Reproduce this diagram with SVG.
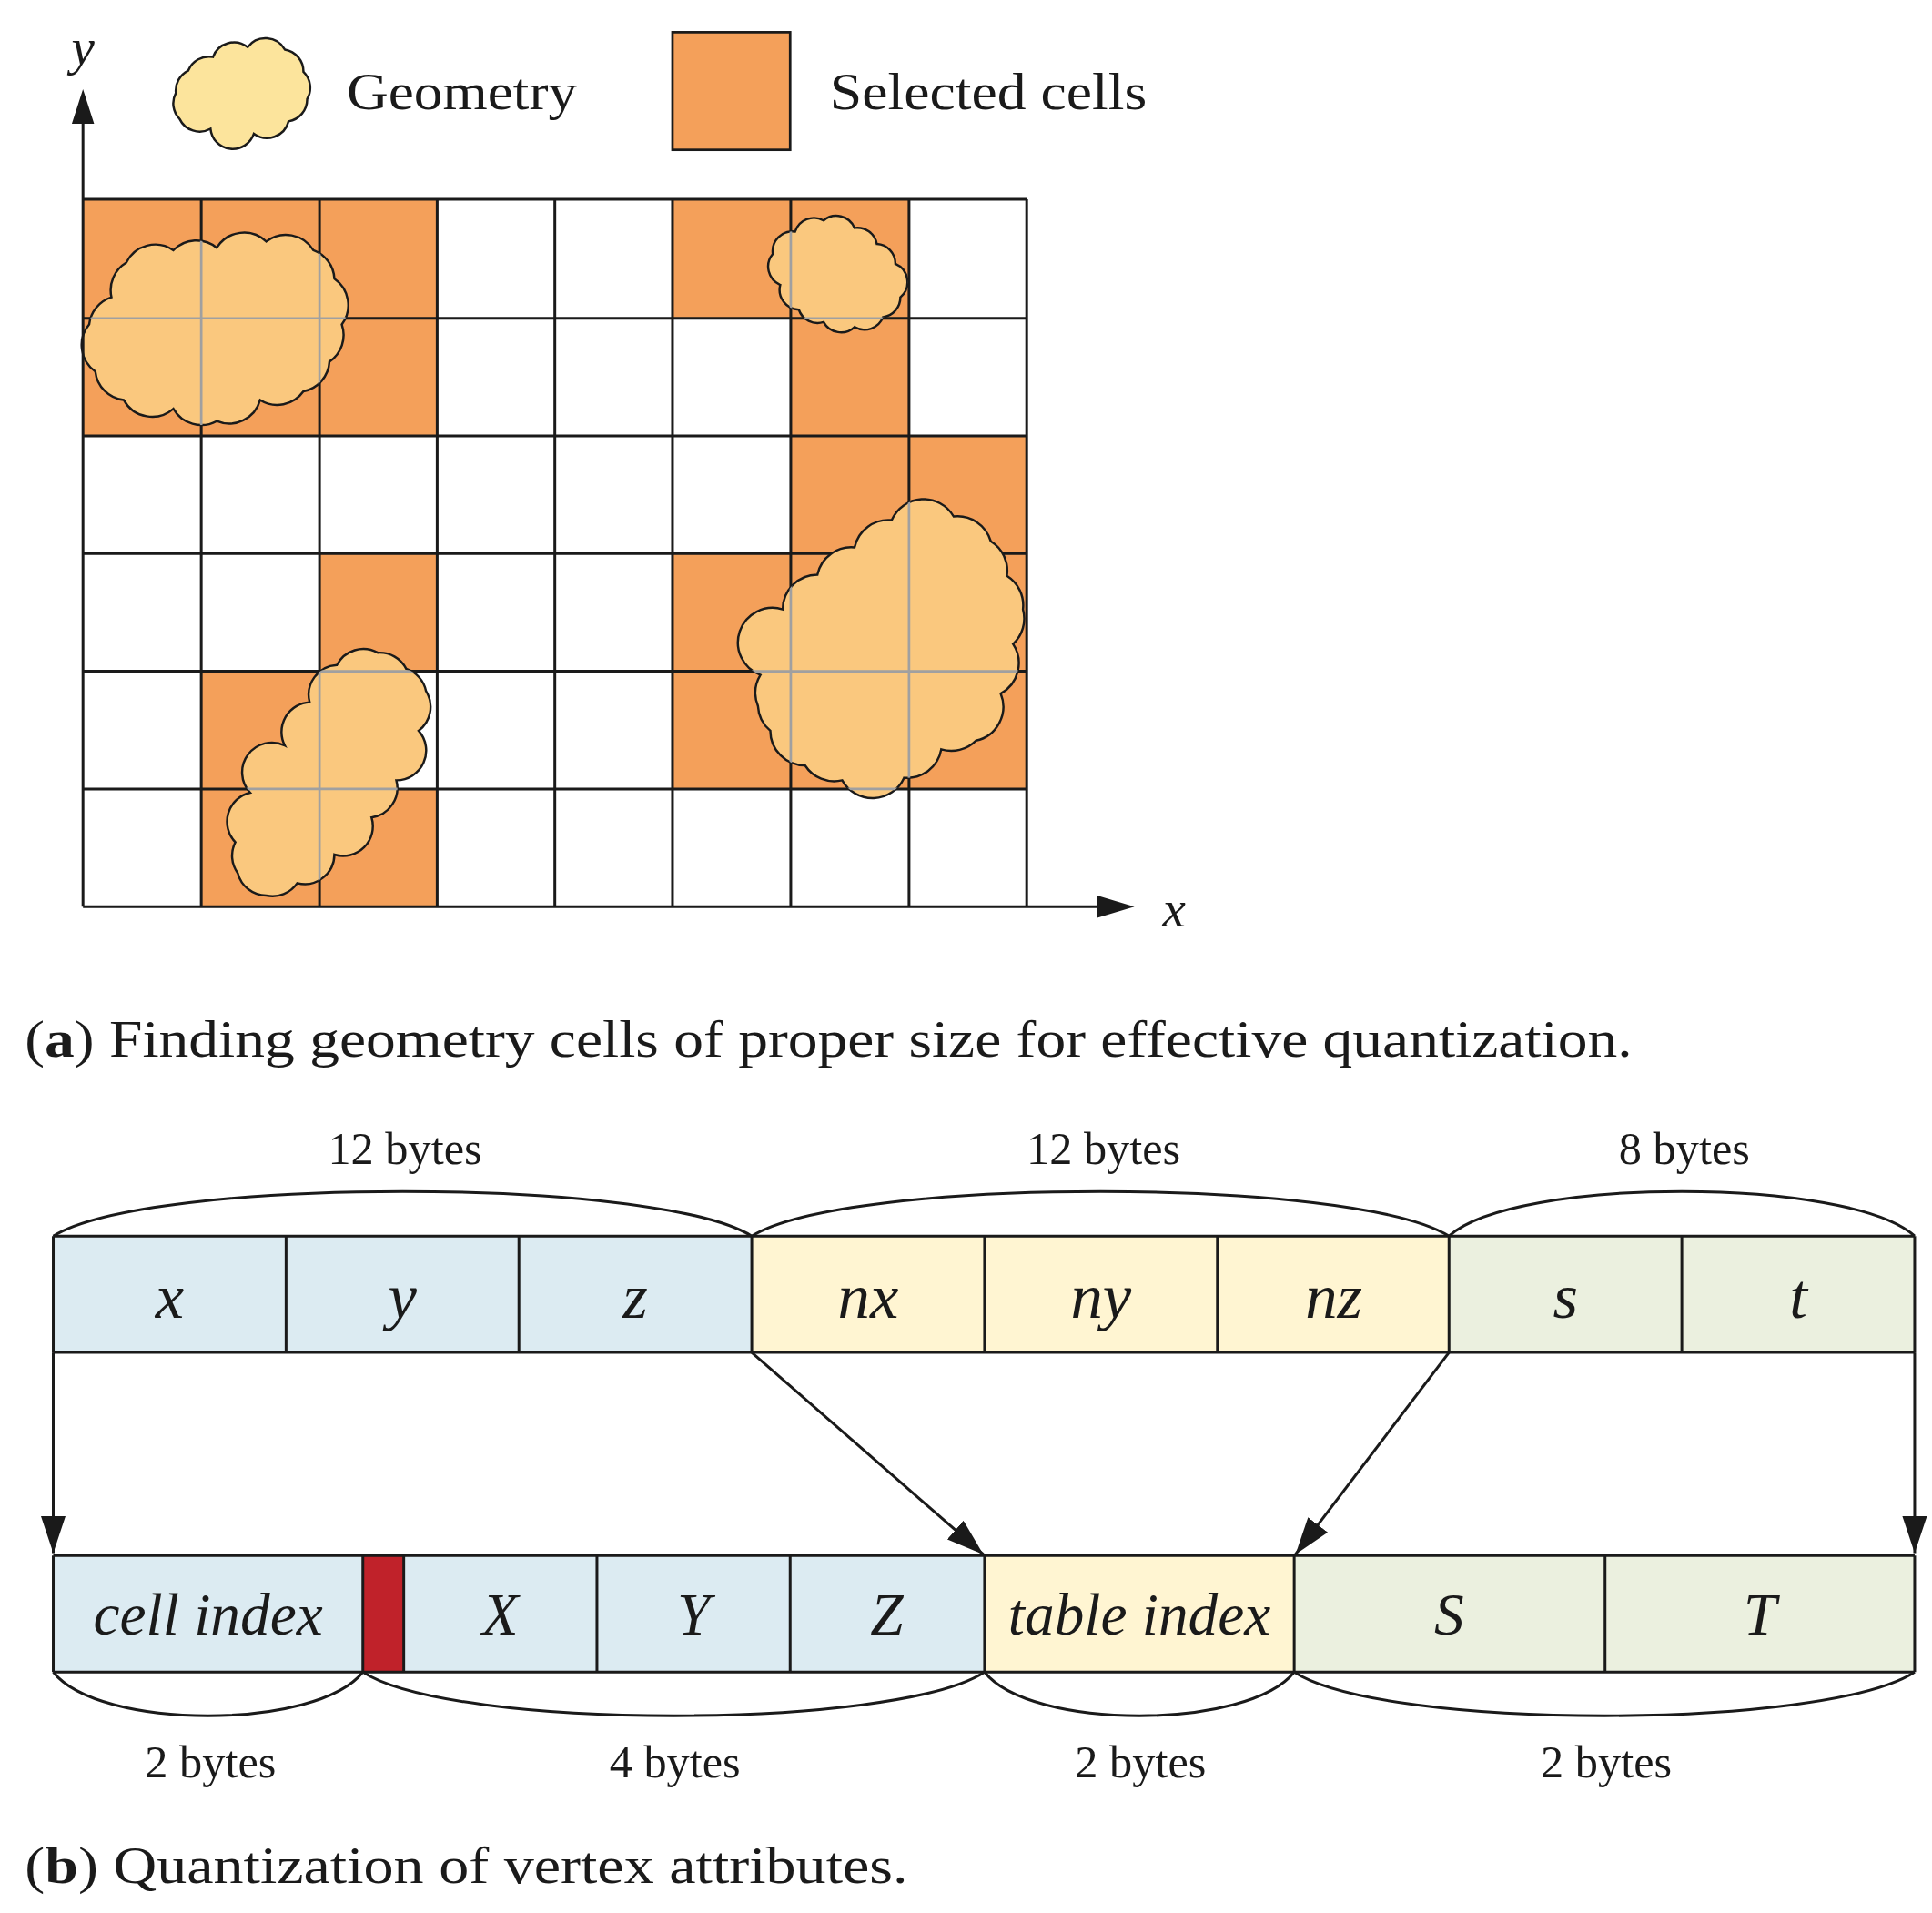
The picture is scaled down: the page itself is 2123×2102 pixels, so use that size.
<svg xmlns="http://www.w3.org/2000/svg" width="2123" height="2102" viewBox="0 0 2123 2102">
<style>
.g{stroke:#1a1a1a;stroke-width:2.2;fill:none}
.or{fill:#F4A05A}
.cl{fill:#FAC87E;stroke:#1a1a1a;stroke-width:1.8}
.gl{stroke:#a0a0a0;stroke-width:2;fill:none}
.t{font-family:"Liberation Serif",serif;fill:#1a1a1a}
.i{font-family:"Liberation Serif",serif;font-style:italic;fill:#1a1a1a;text-anchor:middle}
.bl{fill:#DCEBF2}.ye{fill:#FFF5D2}.gr{fill:#EBF0DF}
.ln{stroke:#1a1a1a;stroke-width:2.2;fill:none}
</style>
<defs>
<marker id="ah2" viewBox="0 0 30 20" markerWidth="30" markerHeight="20" refX="30" refY="10" orient="auto" markerUnits="userSpaceOnUse"><path d="M0,0 L30,10 L0,20 z" fill="#1a1a1a"/></marker>
<path id="c1" d="M72,262 A26,26 0 0 1 90,240 A26,26 0 0 1 102,212 A26,26 0 0 1 140,202 A26,26 0 0 1 175,200 A26,26 0 0 1 215,195 A26,26 0 0 1 253,202 A26,26 0 0 1 270,225 A26,26 0 0 1 276,262 A26,26 0 0 1 266,292 A26,26 0 0 1 245,316 A26,26 0 0 1 210,323 A26,26 0 0 1 175,340 A26,26 0 0 1 140,330 A26,26 0 0 1 100,323 A26,26 0 0 1 77,300 A26,26 0 0 1 72,262 Z"/>
<path id="c2" d="M624,205 A16,16 0 0 1 642,187 A16,16 0 0 1 665,178 A16,16 0 0 1 690,184 A16,16 0 0 1 708,197 A16,16 0 0 1 723,213 A16,16 0 0 1 727,240 A16,16 0 0 1 713,256 A16,16 0 0 1 690,264 A16,16 0 0 1 665,260 A16,16 0 0 1 645,250 A16,16 0 0 1 630,230 A16,16 0 0 1 624,205 Z"/>
<path id="c3" d="M614,545 A28,28 0 0 1 632,492 A28,28 0 0 1 660,464 A28,28 0 0 1 690,442 A28,28 0 0 1 720,420 A28,28 0 0 1 770,417 A28,28 0 0 1 800,437 A28,28 0 0 1 813,465 A28,28 0 0 1 826,492 A28,28 0 0 1 818,520 A28,28 0 0 1 808,560 A28,28 0 0 1 788,598 A28,28 0 0 1 760,605 A28,28 0 0 1 730,628 A28,28 0 0 1 680,630 A28,28 0 0 1 650,618 A28,28 0 0 1 622,590 A28,28 0 0 1 612,570 A28,28 0 0 1 614,545 Z"/>
<path id="c4" d="M190,680 A24,24 0 0 1 202,640 A24,24 0 0 1 230,602 A24,24 0 0 1 250,567 A24,24 0 0 1 272,537 A24,24 0 0 1 305,527 A24,24 0 0 1 328,540 A24,24 0 0 1 344,558 A24,24 0 0 1 338,590 A24,24 0 0 1 320,630 A24,24 0 0 1 300,660 A24,24 0 0 1 270,690 A24,24 0 0 1 240,713 A24,24 0 0 1 215,723 A24,24 0 0 1 192,705 A24,24 0 0 1 190,680 Z"/>
<clipPath id="cc"><use href="#c1"/><use href="#c2"/><use href="#c3"/><use href="#c4"/></clipPath>
</defs>
<g transform="scale(1.3609)">
<g id="grid">
<g class="or">
<rect x="67" y="161" width="286" height="191"/>
<rect x="543" y="161" width="191" height="96"/>
<rect x="638.5" y="257" width="95.5" height="95"/>
<rect x="638.5" y="352" width="190.5" height="95"/>
<rect x="258" y="447" width="95" height="95"/>
<rect x="543" y="447" width="286" height="190"/>
<rect x="162.5" y="542" width="95.5" height="95"/>
<rect x="162.5" y="637" width="190.5" height="95"/>
</g>
<path class="g" d="M67,161H829M67,257H829M67,352H829M67,447H829M67,542H829M67,637H829M162.5,161V732M258,161V732M353,161V732M448,161V732M543,161V732M638.5,161V732M734,161V732M829,161V732"/>
</g>
<g id="clouds">
<use href="#c1" class="cl"/><use href="#c2" class="cl"/><use href="#c3" class="cl"/><use href="#c4" class="cl"/>
<path class="gl" clip-path="url(#cc)" d="M67,257H829M67,542H829M67,637H829M162.5,161V732M258,161V732M734,161V732M638.5,161V732"/>
</g>
<g id="axes">
<path class="ln" d="M67,732V98M67,732H888" stroke-width="2.6"/>
<path d="M58,100 L67,72 L76,100 Z M886,723 L916,732 L886,741 Z" fill="#1a1a1a"/>
<text class="i" x="67" y="52" font-size="42">y</text>
<text class="i" x="948" y="748" font-size="42">x</text>
</g>
<g id="legend">
<path d="M142,75 A18,18 0 0 1 152,57 A18,18 0 0 1 172,46 A18,18 0 0 1 200,38 A18,18 0 0 1 230,40 A18,18 0 0 1 245,58 A18,18 0 0 1 248,80 A18,18 0 0 1 233,98 A18,18 0 0 1 205,108 A18,18 0 0 1 170,104 A18,18 0 0 1 145,96 A18,18 0 0 1 142,75 Z" fill="#FCE49C" stroke="#1a1a1a" stroke-width="1.8"/>
<text class="t" x="280" y="88" font-size="42" textLength="186" lengthAdjust="spacingAndGlyphs">Geometry</text>
<rect x="543" y="26" width="95" height="95" fill="#F4A05A" stroke="#1a1a1a" stroke-width="2"/>
<text class="t" x="670" y="88" font-size="42" textLength="256" lengthAdjust="spacingAndGlyphs">Selected cells</text>
</g>
<text class="t" x="20" y="853" font-size="42" textLength="1298" lengthAdjust="spacingAndGlyphs">(<tspan font-weight="bold">a</tspan>) Finding geometry cells of proper size for effective quantization.</text>
<g id="toprow">
<rect class="bl" x="43" y="998" width="564" height="94"/>
<rect class="ye" x="607" y="998" width="563" height="94"/>
<rect class="gr" x="1170" y="998" width="376" height="94"/>
<path class="ln" d="M43,998H1546M43,1092H1546" stroke-width="2.8"/>
<path class="ln" d="M43,998V1092M231,998V1092M419,998V1092M607,998V1092M795,998V1092M983,998V1092M1170,998V1092M1358,998V1092M1546,998V1092"/>
<g font-size="52">
<text class="i" x="137" y="1064">x</text><text class="i" x="325" y="1064">y</text><text class="i" x="513" y="1064">z</text>
<text class="i" x="701" y="1064">nx</text><text class="i" x="889" y="1064">ny</text><text class="i" x="1077" y="1064">nz</text>
<text class="i" x="1264" y="1064">s</text><text class="i" x="1452" y="1064">t</text>
</g>
<path class="ln" d="M43,998C120,950 530,950 607,998C684,950 1093,950 1170,998C1222,950 1494,950 1546,998"/>
<g class="t" font-size="37" text-anchor="middle">
<text x="327" y="940">12 bytes</text><text x="891" y="940">12 bytes</text><text x="1360" y="940">8 bytes</text>
</g>
</g>
<g id="bottomrow">
<rect class="bl" x="43" y="1256" width="752" height="94"/>
<rect x="293" y="1256" width="33" height="94" fill="#C0222A"/>
<rect class="ye" x="795" y="1256" width="250" height="94"/>
<rect class="gr" x="1045" y="1256" width="501" height="94"/>
<path class="ln" d="M43,1256H1546M43,1350H1546" stroke-width="2.8"/>
<path class="ln" d="M43,1256V1350M293,1256V1350M326,1256V1350M482,1256V1350M638,1256V1350M795,1256V1350M1045,1256V1350M1296,1256V1350M1546,1256V1350"/>
<g font-size="48">
<text class="i" x="168" y="1320">cell index</text><text class="i" x="404" y="1320">X</text><text class="i" x="560" y="1320">Y</text><text class="i" x="716" y="1320">Z</text>
<text class="i" x="920" y="1320">table index</text><text class="i" x="1170" y="1320">S</text><text class="i" x="1421" y="1320">T</text>
</g>
<path class="ln" d="M43,1350C80,1397 256,1397 293,1350C365,1397 723,1397 795,1350C832,1397 1008,1397 1045,1350C1117,1397 1474,1397 1546,1350"/>
<g class="t" font-size="37" text-anchor="middle">
<text x="170" y="1435">2 bytes</text><text x="545" y="1435">4 bytes</text><text x="921" y="1435">2 bytes</text><text x="1297" y="1435">2 bytes</text>
</g>
</g>
<g id="connectors" class="ln">
<line x1="43" y1="1092" x2="43" y2="1254" marker-end="url(#ah2)"/>
<line x1="607" y1="1092" x2="794" y2="1255" marker-end="url(#ah2)"/>
<line x1="1170" y1="1092" x2="1046" y2="1255" marker-end="url(#ah2)"/>
<line x1="1546" y1="1092" x2="1546" y2="1254" marker-end="url(#ah2)"/>
</g>
<text class="t" x="20" y="1520" font-size="42" textLength="713" lengthAdjust="spacingAndGlyphs">(<tspan font-weight="bold">b</tspan>) Quantization of vertex attributes.</text>
</g>
</svg>
